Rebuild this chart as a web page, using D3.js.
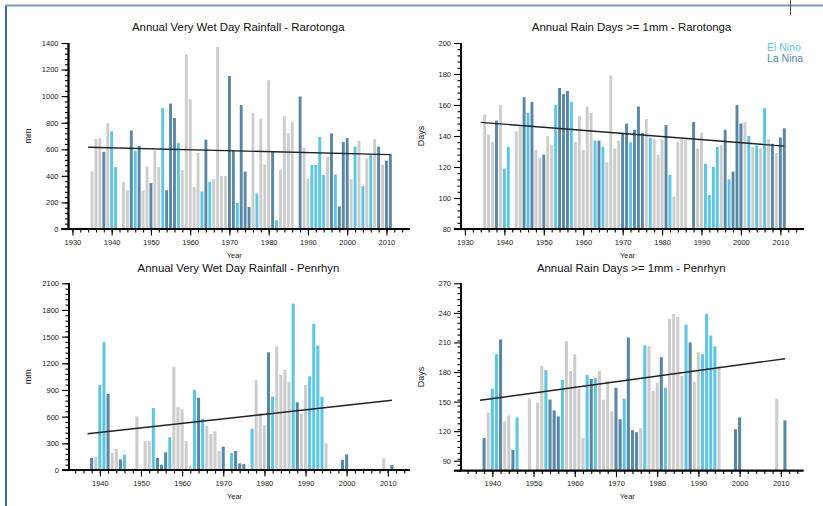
<!DOCTYPE html>
<html>
<head>
<meta charset="utf-8">
<script src="https://d3js.org/d3.v7.min.js"></script>
<style>
  html, body { margin: 0; padding: 0; background: #fff; }
  svg { display: block; font-family: "Liberation Sans", Arial, Helvetica, sans-serif; }
</style>
</head>
<body>
<svg id="svg" width="823" height="506"></svg>
<script>
// ENSO phase per year 1935-2011: N neutral, E El Nino, L La Nina
const ensoYears = d3.range(1935, 2012);
const ensoPhase = ("NNNLNEEL" + "NNLELNNLNN" + "ELLLENNNNN" + "ELENNNNLLE" + "LLLNENNNLE" +
                   "NNNNELNNEE" + "EENLELLLNE" + "NENENLNLL").split("");

const raroYears = d3.range(1935, 2012);
const raroRain = [434, 677, 683, 581, 798, 735, 466, null, 355, 292,
  742, 587, 626, 291, 470, 346, 592, 466, 910, 292,
  944, 835, 647, 443, 1314, 977, 317, 572, 283, 673,
  355, 373, 1371, 399, 400, 1152, 590, 196, 933, 432,
  165, 873, 267, 830, 486, 1120, 581, 66, 445, 850,
  720, 807, null, 997, 611, 380, 482, 482, 692, 407,
  540, 720, 410, 170, 655, 684, 375, 620, 662, 322,
  530, 560, 676, 620, 485, 515, 565];
const raroDays = [154, 141, 136, 150, 160, 119, 133, null, 143, 146,
  165, 155, 162, 131, 126, 128, 140, 134, 160, 171,
  167, 169, 162, 136, 153, 131, 159, 155, 137, 137,
  133, 123, 179, 132, 137, 142, 148, 136, 144, 159,
  142, 151, 139, 138, 128, 138, 147, 115, 101, 136,
  138, 138, null, 149, 132, 142, 122, 102, 120, 133,
  134, 144, 112, 117, 160, 148, 149, 140, 133, 134,
  132, 158, 138, 135, 129, 139, 145];

const penYears = d3.range(1938, 2012);
const penRain = [138, 150, 956, 1440, 855, 191, 236, 120, 172, null,
  null, 604, null, 326, 325, 697, 135, 60, 199, 368,
  1162, 709, 679, 325, 52, 900, 814, 574, 495, 405,
  435, 214, 262, null, 191, 214, 75, 67, null, 465,
  1009, 640, 503, 1324, 825, 1391, 1069, 1129, 994, 1871,
  761, 637, 956, 1054, 1646, 1399, 821, 300, null, null,
  null, 112, 176, null, null, null, null, null, null, null,
  null, 131, null, 56];
const penDays = [113, 139, 163, 198, 213, 130, 136, 101, 134, null,
  null, 153, null, 149, 186, 182, 152, 141, 135, 172,
  211, 181, 198, 163, 113, 177, 173, 174, 181, 152,
  171, 140, 164, 132, 153, 215, 121, 119, 123, 207,
  206, 161, 169, 195, 164, 234, 239, 236, 176, 228,
  210, 170, 200, 198, 239, 217, 206, 186, null, null,
  null, 122, 134, null, null, null, null, null, null, null,
  null, 153, null, 131];

// trend line end points [year, value]
const raroRainTrend = [[1934, 615], [2011, 560]];
const raroDaysTrend = [[1934, 148.8], [2011, 133.5]];
const penRainTrend = [[1937, 408], [2011, 784]];
const penDaysTrend = [[1937, 151.3], [2011, 193.5]];

const colors = { N: "#cdcdcd", E: "#5cc6e4", L: "#5a87a6" };
const phaseOf = {};
ensoYears.forEach((y, i) => phaseOf[y] = ensoPhase[i]);

const svg = d3.select("#svg");

// page frame
svg.append("line").attr("x1", 6).attr("x2", 6).attr("y1", 5).attr("y2", 506)
  .attr("stroke", "#3d62a6").attr("stroke-width", 2);
svg.append("line").attr("x1", 5).attr("x2", 823).attr("y1", 5.5).attr("y2", 5.5)
  .attr("stroke", "#7f97bf").attr("stroke-width", 2);
svg.append("line").attr("x1", 790.5).attr("x2", 790.5).attr("y1", 0).attr("y2", 15)
  .attr("stroke", "#555").attr("stroke-width", 1);

const panels = [
  { title: "Annual Very Wet Day Rainfall - Rarotonga", years: raroYears, values: raroRain, trend: raroRainTrend,
    xr: [68.5, 410], yr: [229, 43], xd: [1929, 2016], yd: [0, 1400], yStep: 200, yMinor: 40,
    xMajor: d3.range(1930, 2011, 10), xMinor: d3.range(1930, 2016, 2), ylab: "mm", ylabX: 31, titleY: 31, yearY: 258 },
  { title: "Annual Rain Days >= 1mm - Rarotonga", years: raroYears, values: raroDays, trend: raroDaysTrend,
    xr: [461, 804], yr: [229, 43], xd: [1929, 2016], yd: [80, 200], yStep: 20, yMinor: 4,
    xMajor: d3.range(1930, 2011, 10), xMinor: d3.range(1930, 2016, 2), ylab: "Days", ylabX: 424, titleY: 31, yearY: 258 },
  { title: "Annual Very Wet Day Rainfall - Penrhyn", years: penYears, values: penRain, trend: penRainTrend,
    xr: [69, 410], yr: [470, 283.3], xd: [1932.5, 2015.4], yd: [0, 2100], yStep: 300, yMinor: 60,
    xMajor: d3.range(1940, 2011, 10), xMinor: d3.range(1934, 2015, 2), ylab: "mm", ylabX: 31, titleY: 272, yearY: 499 },
  { title: "Annual Rain Days >= 1mm - Penrhyn", years: penYears, values: penDays, trend: penDaysTrend,
    xr: [461, 803.5], yr: [470.6, 283.3], xd: [1932.4, 2015.5], yd: [80, 270], yStep: 30, yMinor: 6,
    xMajor: d3.range(1940, 2011, 10), xMinor: d3.range(1934, 2015, 2), ylab: "Days", ylabX: 424, titleY: 272, yearY: 499 }
];

panels.forEach(p => {
  const x = d3.scaleLinear().domain(p.xd).range(p.xr);
  const y = d3.scaleLinear().domain(p.yd).range(p.yr);
  const g = svg.append("g");
  const step = x(1) - x(0);
  const bw = step * 0.74;

  const rows = p.years.map((yr, i) => ({ yr, v: p.values[i] })).filter(d => d.v != null);
  g.selectAll("rect").data(rows).join("rect")
    .attr("x", d => x(d.yr) - bw / 2)
    .attr("width", bw)
    .attr("y", d => y(d.v))
    .attr("height", d => y(p.yd[0]) - y(d.v))
    .attr("fill", d => colors[phaseOf[d.yr]]);

  // trend line
  g.append("path")
    .attr("d", d3.line().x(d => x(d[0])).y(d => y(d[1]))(p.trend))
    .attr("fill", "none").attr("stroke", "#222").attr("stroke-width", 1.4);

  // y axis
  const yMajor = d3.range(p.yd[0], p.yd[1] + 0.1, p.yStep).filter(v => v >= p.yd[0]);
  const yMin = d3.range(p.yd[0], p.yd[1] + 0.1, p.yMinor);
  const ya = g.append("g").attr("transform", `translate(${p.xr[0]},0)`);
  ya.call(d3.axisLeft(y).tickValues(yMin).tickSize(3.5).tickFormat(""));
  ya.append("g").call(d3.axisLeft(y).tickValues(p.yd[0] === 80 && p.yStep === 30 ? d3.range(90, 271, 30) : yMajor)
    .tickSize(7).tickPadding(3).tickFormat(d3.format("d")));
  ya.selectAll(".domain").attr("d", `M0,${p.yr[0]}V${p.yr[1]}`).attr("stroke-width", 1.8);
  ya.selectAll(".tick line").attr("stroke-width", 1.1);
  ya.selectAll("text").attr("font-size", 7.5).attr("fill", "#222").attr("font-family", "Liberation Sans, Arial, sans-serif");

  // x axis
  const xa = g.append("g").attr("transform", `translate(0,${p.yr[0]})`);
  xa.call(d3.axisBottom(x).tickValues(p.xMinor).tickSize(3.5).tickFormat(""));
  xa.append("g").call(d3.axisBottom(x).tickValues(p.xMajor).tickSize(6.5).tickPadding(4).tickFormat(d3.format("d")));
  xa.selectAll(".domain").attr("d", `M${p.xr[0] - 7},0H${p.xr[1]}`).attr("stroke-width", 1.8);
  xa.selectAll(".tick line").attr("stroke-width", 1.1);
  xa.selectAll("text").attr("font-size", 7.5).attr("fill", "#222").attr("font-family", "Liberation Sans, Arial, sans-serif");

  // labels
  const cx = (p.xr[0] + p.xr[1]) / 2 - 1;
  g.append("text").attr("x", cx).attr("y", p.titleY).attr("text-anchor", "middle")
    .attr("font-size", 11.4).attr("fill", "#111").text(p.title);
  g.append("text").attr("x", cx - 4).attr("y", p.yearY).attr("text-anchor", "middle")
    .attr("font-size", 7.5).attr("fill", "#222").text("Year");
  const my = (p.yr[0] + p.yr[1]) / 2;
  g.append("text").attr("transform", `translate(${p.ylabX},${my}) rotate(-90)`)
    .attr("text-anchor", "middle").attr("font-size", 9).attr("fill", "#222").text(p.ylab);
});

// legend
svg.append("text").attr("x", 767).attr("y", 50.5).attr("font-size", 10.5)
  .attr("fill", colors.E).text("El Nino");
svg.append("text").attr("x", 767).attr("y", 62).attr("font-size", 10.5)
  .attr("fill", colors.L).text("La Nina");
</script>
</body>
</html>
